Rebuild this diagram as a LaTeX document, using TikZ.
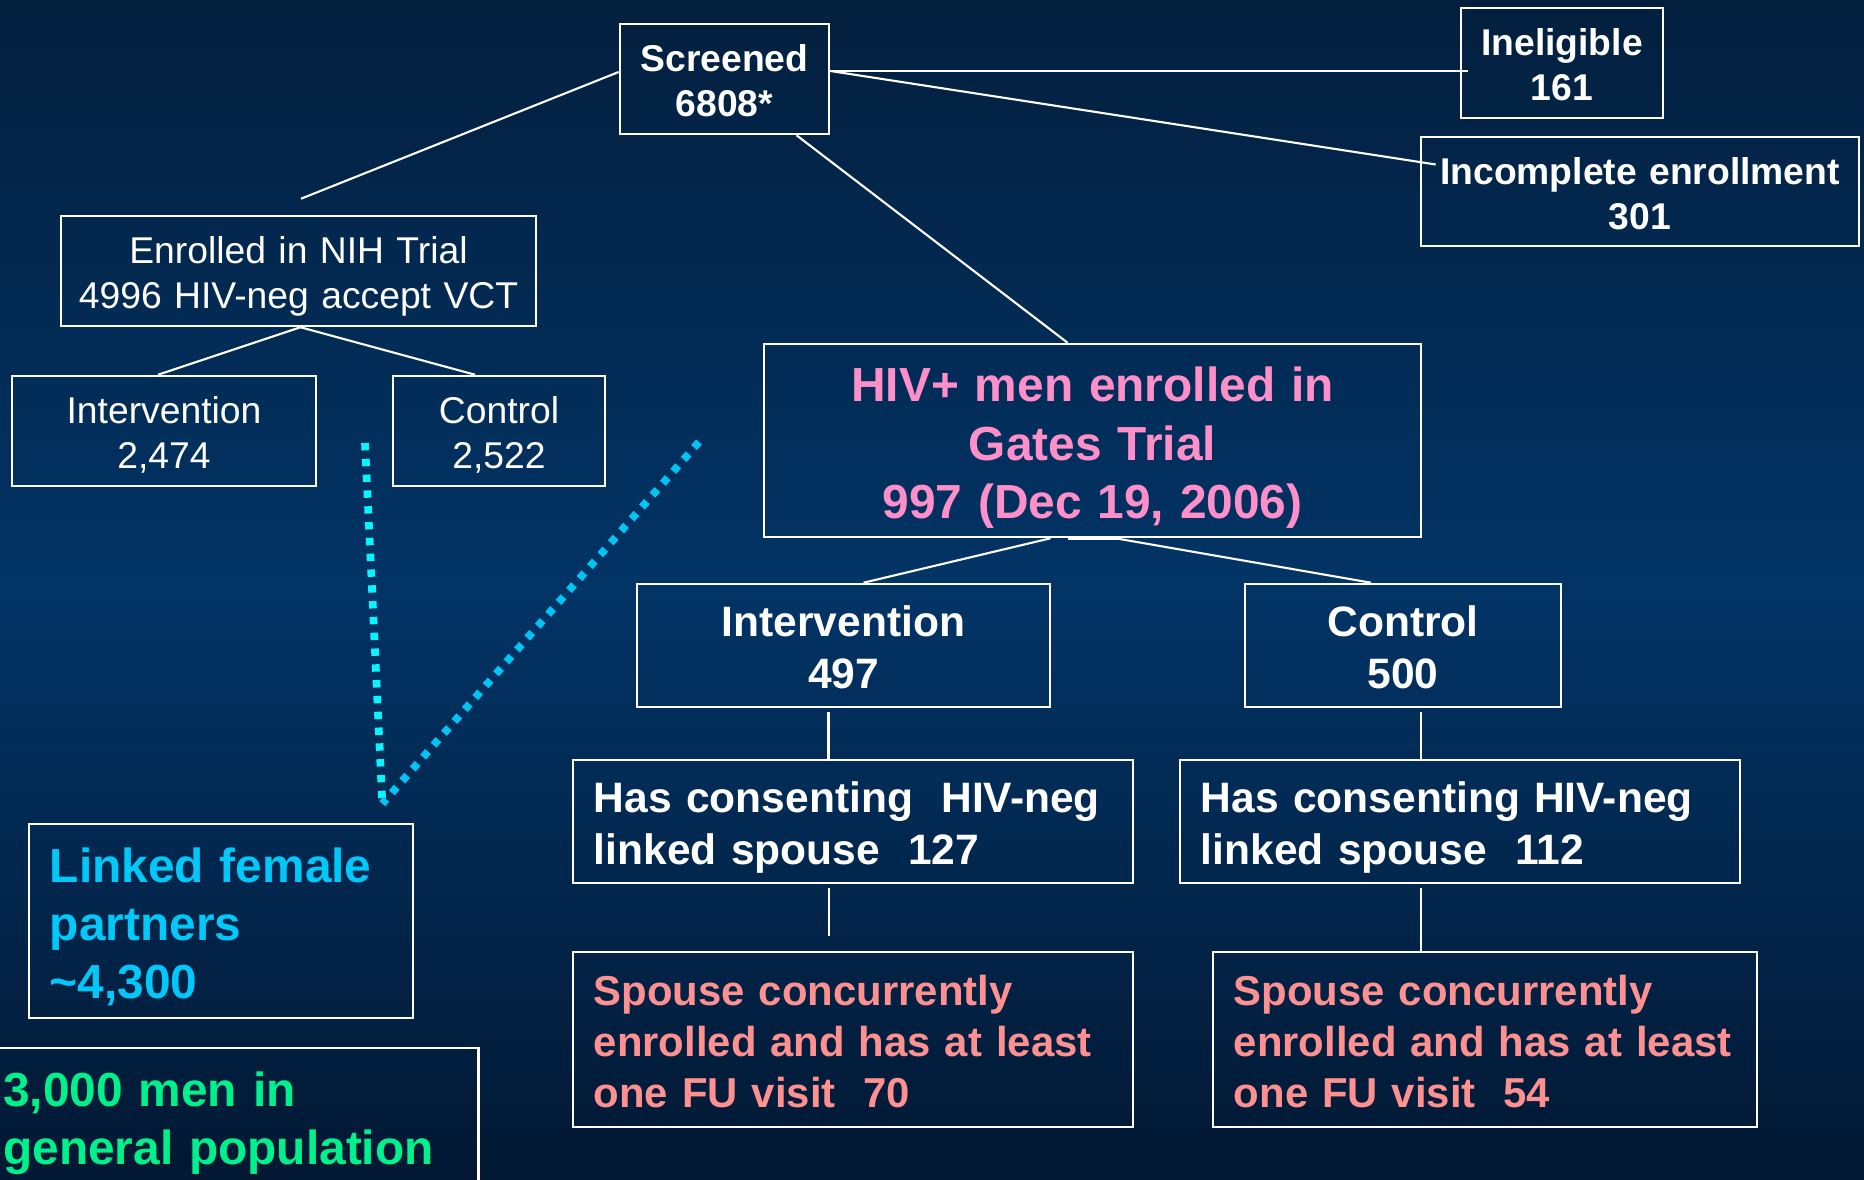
\documentclass[tikz,border=0pt]{standalone}
\usepackage{fontspec}
\setmainfont{Liberation Sans}
\usetikzlibrary{calc}
\definecolor{trialTop}{HTML}{031F3E}
\definecolor{trialMid}{HTML}{023466}
\definecolor{trialBot}{HTML}{021833}
\definecolor{trialPink}{HTML}{FF8FC8}
\definecolor{trialSalmon}{HTML}{FF9090}
\definecolor{trialCyan}{HTML}{00C8F8}
\definecolor{trialAqua}{HTML}{08F4FF}
\definecolor{trialSky}{HTML}{00C4F4}
\definecolor{trialGreen}{HTML}{00F08C}
\newcommand{\pptstrut}{\rule[-0.212em]{0pt}{1.117em}}
\newcommand{\ppttop}{\rule[-0.212em]{0pt}{1.24em}}
\begin{document}
\begin{tikzpicture}[
  x=0.01cm, y=-0.01cm,
  box/.style={draw=white, line width=0.7pt, inner sep=0pt, text=white, align=center,
              execute at begin node=\ppttop, execute at end node=\pptstrut},
  lbox/.style={box, align=left},
  plainS/.style={font=\fontsize{10.6}{12.8}\selectfont},
  boldS/.style={font=\fontsize{10.6}{12.8}\selectfont\bfseries},
  boldM/.style={font=\fontsize{12.1}{14.8}\selectfont\bfseries},
  boldF/.style={font=\fontsize{11.9}{14.5}\selectfont\bfseries},
  boldL/.style={font=\fontsize{13.6}{16.5}\selectfont\bfseries},
  wire/.style={draw=white, line width=0.6pt},
  dots/.style={line width=2.2pt, dash pattern=on 2.1pt off 2.4pt},
]
\useasboundingbox (0,0) rectangle (1864,1180);
\clip (0,0) rectangle (1864,1180);
\shade[top color=trialTop, bottom color=trialBot, middle color=trialMid] (0,0) rectangle (1864,1180);

\node[box, boldS, text width=2.09cm, minimum height=1.10cm] (screened) at (724.5,79) {Screened\\6808*};
\node[box, boldS, text width=2.02cm, minimum height=1.10cm] (inelig) at (1562,63) {Ineligible\\161};
\node[box, boldS, text width=4.38cm, minimum height=1.09cm] (incompl) at (1640,191.5) {Incomplete enrollment\\301};
\node[box, plainS, text width=4.75cm, minimum height=1.10cm] (nih) at (298.5,271) {Enrolled in NIH Trial\\4996 HIV-neg accept VCT};
\node[box, plainS, text width=3.04cm, minimum height=1.10cm] (nihint) at (164,431) {Intervention\\2,474};
\node[box, plainS, text width=2.12cm, minimum height=1.10cm] (nihctl) at (499,431) {Control\\2,522};
\node[box, boldL, text=trialPink, text width=6.57cm, minimum height=1.93cm] (gates) at (1092.5,440.5) {HIV+ men enrolled in\\Gates Trial\\997 (Dec 19, 2006)};
\node[box, boldM, text width=4.13cm, minimum height=1.23cm] (gint) at (843.5,645.5) {Intervention\\497};
\node[box, boldM, text width=3.16cm, minimum height=1.23cm] (gctl) at (1403,645.5) {Control\\500};
\node[lbox, boldM, text width=5.18cm, minimum width=5.60cm, minimum height=1.23cm] (sp1) at (853,821.5) {Has consenting~ HIV-neg\\linked spouse~ 127};
\node[lbox, boldM, text width=5.18cm, minimum width=5.60cm, minimum height=1.23cm] (sp2) at (1460,821.5) {Has consenting HIV-neg\\linked spouse~ 112};
\node[lbox, boldF, text=trialSalmon, text width=5.18cm, minimum width=5.60cm, minimum height=1.75cm] (fu1) at (853,1039.5) {Spouse concurrently\\enrolled and has at least\\one FU visit~ 70};
\node[lbox, boldF, text=trialSalmon, text width=5.02cm, minimum width=5.44cm, minimum height=1.75cm] (fu2) at (1485,1039.5) {Spouse concurrently\\enrolled and has at least\\one FU visit~ 54};
\node[lbox, boldL, text=trialCyan, text width=3.42cm, minimum width=3.84cm, minimum height=1.94cm] (linked) at (221,921) {Linked female\\partners\\\textasciitilde4,300};
\node[lbox, boldL, text=trialGreen, text width=4.63cm, minimum width=4.87cm, minimum height=1.36cm, anchor=north west] (genpop) at (-10,1047) {3,000 men in\\general population};

\draw[wire] ($(screened.west)+(0,-7)$) -- ($(nih.north)+(2.5,-16)$);
\draw[wire] ($(screened.east)+(0,-8)$) -- ($(inelig.west)+(8,8)$);
\draw[wire] ($(screened.east)+(0,-8)$) -- ($(incompl.west)+(16,-27)$);
\draw[wire] ($(screened.south)+(72,0)$) -- ($(gates.north)+(-25,0)$);
\draw[wire] ($(nih.south)+(2,0)$) -- ($(nihint.north)+(-6,0)$);
\draw[wire] ($(nih.south)+(2,0)$) -- ($(nihctl.north)+(-24,0)$);
\draw[wire] ($(gates.south)+(-42,0)$) -- ($(gint.north)+(20,0)$);
\draw[wire] ($(gates.south)+(23,0)$) -- ($(gctl.north)+(-32,0)$);
\draw[white, line width=1.1pt] ($(gates.south)+(-25,0)$) -- ($(gates.south)+(25,0)$);
\draw[wire] ($(gint.south)+(-15,4)$) coordinate (v1) -- (v1 |- sp1.north);
\draw[wire] ($(sp1.south)+(-24,4)$) coordinate (v2) -- ($(v2 |- fu1.north)+(0,-15)$);
\draw[wire] ($(gctl.south)+(18,4)$) coordinate (v3) -- (v3 |- sp2.north);
\draw[wire] ($(sp2.south)+(-39,4)$) coordinate (v4) -- (v4 |- fu2.north);

\coordinate (meet) at ($(linked.north east)+(-32,-19)$);
\coordinate (dotA) at (365,443);
\coordinate (dotB) at (699,442);
\draw[dots, trialAqua] (dotA) -- (meet);
\draw[dots, trialSky] (dotB) -- (meet);
\end{tikzpicture}
\end{document}
